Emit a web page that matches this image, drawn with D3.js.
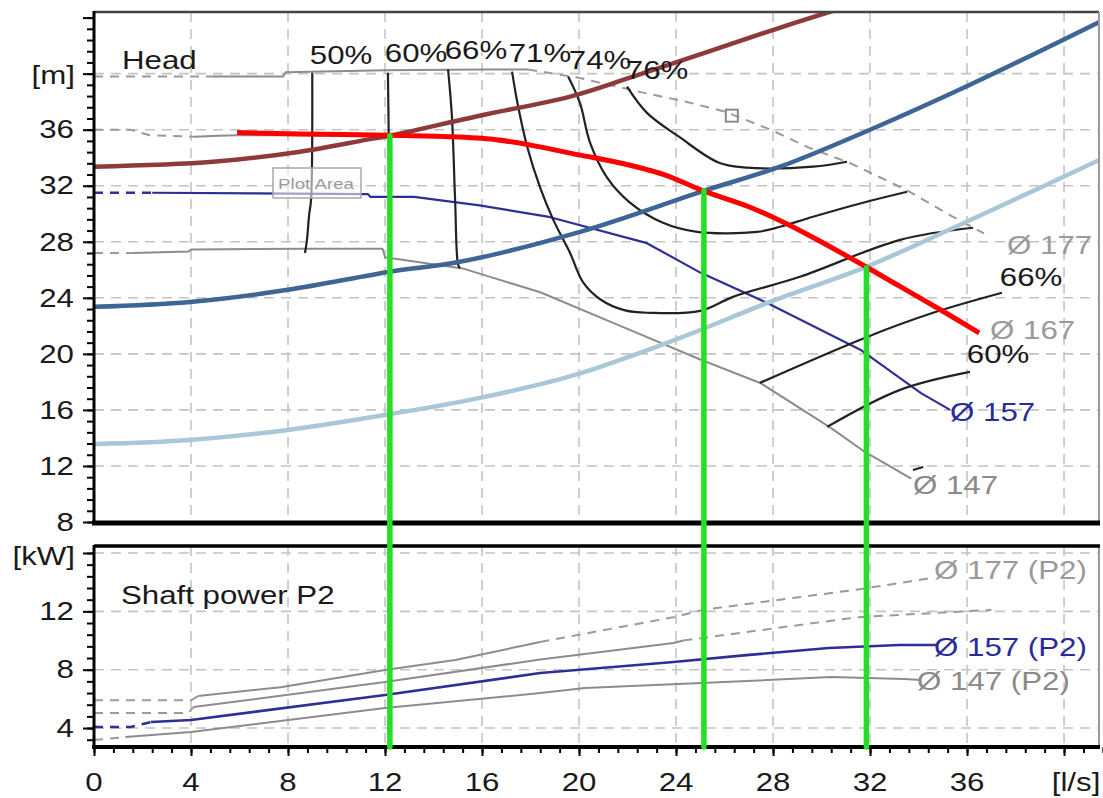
<!DOCTYPE html>
<html>
<head>
<meta charset="utf-8">
<script src="https://cdn.jsdelivr.net/npm/d3@7"></script>
<style>
  body { margin: 0; background: #fff; }
  svg { display: block; }
  text { font-family: "Liberation Sans", Arial, sans-serif; }
</style>
</head>
<body>
<div id="chart"></div>
<script>
// ---- tick labels ----
const flowTicks = [0, 4, 8, 12, 16, 20, 24, 28, 32, 36];
const headTicks = [8, 12, 16, 20, 24, 28, 32, 36];
const powerTicks = [4, 8, 12];
const flowUnit = "[l/s]", headUnit = "[m]", powerUnit = "[kW]";

// ---- QH curves per impeller [Q l/s, H m] ----
const qh177Start = [[0, 39.8], [4.9, 39.8]];
const qh177 = [[4.9, 39.8], [7.8, 39.8], [7.9, 40.1], [12, 40.25], [16, 40.3], [17.9, 40.3]];
const qh177End = [[17.9, 40.3], [20.0, 39.7], [22.5, 38.7], [24.4, 38.0], [26.0, 37.3], [27.9, 36.0],
  [29.5, 34.7], [31.2, 33.6], [33.5, 31.7], [35.4, 29.8], [36.7, 28.6]];
const qh167Start = [[0, 36.0], [1.5, 36.0], [2.3, 35.6], [4.1, 35.5]];
const qh167 = [[4.1, 35.5], [5.9, 35.6], [8.5, 35.6], [12.2, 35.55], [14.6, 35.45], [16.5, 35.25],
  [18.0, 34.85], [20.0, 34.15], [21.5, 33.65], [23.5, 32.75], [25.1, 31.6], [27.0, 30.45], [28.3, 29.45],
  [29.5, 28.4], [31.9, 26.1], [33.2, 24.8], [34.9, 23.1], [36.5, 21.5]];
const qh157Start = [[0, 31.5], [2.4, 31.5]];
const qh157 = [[2.4, 31.5], [11.3, 31.4], [11.4, 31.2], [13.2, 31.2], [15.9, 30.6], [18.7, 29.8],
  [22.8, 27.9], [25.0, 25.8], [27.8, 23.6], [31.6, 20.3], [34.1, 17.2], [35.3, 16.0]];
const qh147Start = [[0, 27.2], [1.6, 27.2]];
const qh147 = [[1.6, 27.2], [3.9, 27.3], [4.0, 27.45], [8.5, 27.5], [11.9, 27.5], [12.0, 26.9],
  [15.2, 26.1], [18.4, 24.4], [21.7, 22.0], [25.0, 19.6], [27.5, 17.9], [30.4, 14.7], [31.7, 13.1], [33.7, 11.1]];
const qhMarker = [26.3, 37.0];

// ---- efficiency contours ----
const eff50 = [[9.0, 40.07], [8.95, 31.0], [8.87, 29.9], [8.78, 28.1], [8.7, 27.2]];
const eff60 = [[12.12, 40.07], [12.16, 34.6], [12.21, 26.9]];
const eff66 = [[14.6, 40.3], [14.76, 36.9], [14.89, 31.0], [15.01, 26.4], [15.09, 26.1]];
const eff71 = [[17.24, 40.14], [17.44, 38.1], [17.86, 34.8], [18.39, 31.9], [18.93, 29.6], [19.63, 27.2],
  [20.17, 25.1], [20.87, 23.9], [21.9, 23.1], [22.93, 22.93], [25.0, 23.07], [26.35, 24.07],
  [29.11, 25.5], [33.24, 28.14], [36.25, 29.0]];
const eff74 = [[19.55, 39.8], [20.04, 37.9], [20.45, 35.1], [21.15, 32.6], [22.1, 30.8], [23.46, 29.36],
  [24.87, 28.71], [27.34, 28.71], [28.29, 29.07], [29.65, 29.79], [31.71, 30.79], [33.53, 31.57]];
const eff76 = [[21.98, 39.07], [22.8, 37.2], [24.12, 35.5], [25.77, 33.64], [26.93, 33.29], [29.65, 33.36], [31.05, 33.71]];
const eff66b = [[27.46, 17.93], [31.88, 21.21], [34.6, 22.93], [37.44, 24.36]];
const eff60b = [[30.23, 14.79], [33.24, 17.43], [36.12, 18.71]];
const eff50b = [[33.77, 11.71], [34.19, 11.93]];

// ---- system curves and the traced pump curve ----
const sysBrown = [[0, 33.36], [4.9, 33.71], [8.5, 34.43], [11.26, 35.29], [12.2, 35.57], [15.9, 37.0],
  [19.63, 38.36], [22.1, 39.71], [28.3, 43.29], [30.64, 44.57]];
const sysBlue = [[0, 23.36], [3.96, 23.71], [8.0, 24.57], [12.2, 25.86], [15.09, 26.57], [20.04, 28.71],
  [25.15, 31.64], [28.29, 33.36], [32.0, 36.0], [36.12, 39.21], [41.48, 43.71]];
const sysLight = [[0, 13.57], [3.96, 13.86], [8.0, 14.57], [12.0, 15.64], [15.92, 16.86], [19.84, 18.5],
  [23.96, 21.0], [27.88, 23.71], [31.84, 26.21], [35.71, 29.21], [39.01, 31.86], [41.48, 33.86]];
const redCurve = [[5.9, 35.8], [8.5, 35.7], [12.2, 35.6], [14.6, 35.5], [16.5, 35.3], [18.0, 34.9],
  [20.0, 34.2], [21.5, 33.7], [23.5, 32.8], [25.1, 31.65], [27.0, 30.5], [28.3, 29.5], [29.5, 28.45],
  [31.9, 26.15], [33.2, 24.85], [34.9, 23.15], [36.5, 21.5]];
const greenQ = [12.2, 25.15, 31.85];
const greenTop = [35.57, 31.64, 26.14];

// ---- shaft power P2 [Q l/s, P kW] ----
const p177Start = [[0, 5.9], [4.0, 5.9], [4.3, 6.2]];
const p177 = [[4.3, 6.2], [7.7, 6.8], [12.0, 7.98], [14.9, 8.66], [18.4, 9.9]];
const p177End = [[18.4, 9.9], [23.9, 11.6], [25.1, 12.1], [31.5, 13.5], [34.6, 14.3]];
const p167Start = [[0, 5.03], [3.9, 5.03], [4.1, 5.44]];
const p167 = [[4.1, 5.44], [12.0, 7.15], [18.4, 8.7], [23.9, 9.83], [24.3, 10.0]];
const p167End = [[24.3, 10.0], [31.5, 11.6], [37.0, 12.1]];
const p157Start = [[0, 4.07], [1.5, 4.07], [2.35, 4.41]];
const p157 = [[2.35, 4.41], [4.0, 4.55], [12.0, 6.26], [18.4, 7.77], [23.9, 8.53], [26.9, 9.0],
  [30.3, 9.49], [33.2, 9.69], [34.8, 9.69]];
const p147Start = [[0, 3.18], [1.3, 3.38]];
const p147 = [[1.3, 3.38], [4.0, 3.73], [12.0, 5.37], [18.4, 6.4], [20.25, 6.74], [26.0, 7.15],
  [30.4, 7.5], [33.4, 7.36], [34.1, 7.29]];

// ---- labels [text, Q, value] ----
const effLabels = [["50%", 10.19, 41.33], ["60%", 13.28, 41.48], ["66%", 15.75, 41.69], ["71%", 18.39, 41.48],
  ["74%", 20.87, 40.98], ["76%", 23.22, 40.26], ["66%", 38.64, 25.45], ["60%", 37.28, 20.0]];
const headLabels = [["Ø 177", 37.65, 27.75, "#9a9a9a"], ["Ø 167", 36.95, 21.7, "#9a9a9a"],
  ["Ø 157", 35.3, 15.85, "#2a2a9a"], ["Ø 147", 33.77, 10.64, "#8a8a8a"]];
const powerLabels = [["Ø 177 (P2)", 34.64, 14.83, "#9a9a9a"], ["Ø 157 (P2)", 34.64, 9.55, "#2a2a9a"],
  ["Ø 147 (P2)", 33.94, 7.22, "#8a8a8a"]];

const width = 1103, height = 798;
const left = 94, right = 1099;
const x = d3.scaleLinear().domain([0, 41.4]).range([94, 1098]);
const yH = d3.scaleLinear().domain([8, 44.4]).range([522, 12]);
const yP = d3.scaleLinear().domain([2.7, 16.48]).range([747, 546]);

const svg = d3.select("#chart").append("svg")
  .attr("width", width)
  .attr("height", height)
  .attr("viewBox", [0, 0, width, height]);

svg.append("rect").attr("width", width).attr("height", height).attr("fill", "#fff");

const defs = svg.append("defs");
defs.append("clipPath").attr("id", "clipH")
  .append("rect").attr("x", left).attr("y", yH.range()[1]).attr("width", right - left).attr("height", 510);
defs.append("clipPath").attr("id", "clipP")
  .append("rect").attr("x", left).attr("y", yP.range()[1]).attr("width", right - left).attr("height", 201);

function txt(g, px, py, str, o = {}) {
  return g.append("text")
    .attr("transform", `translate(${px},${py}) scale(${o.sx ?? 1.25},1)`)
    .attr("text-anchor", o.anchor || "start")
    .attr("dy", o.dy ?? "0.35em")
    .attr("font-size", o.size || 25)
    .attr("fill", o.fill || "#1a1a1a")
    .text(str);
}

// ---- grid ----
const grid = svg.append("g")
  .attr("stroke", "#c4c4c4")
  .attr("stroke-width", 1.6)
  .attr("stroke-dasharray", "10,7");
const gridQ = d3.range(4, 41, 4);
grid.selectAll(".vh").data(gridQ).join("line")
  .attr("x1", d => x(d)).attr("x2", d => x(d))
  .attr("y1", yH.range()[1]).attr("y2", yH.range()[0]);
grid.selectAll(".vp").data(gridQ).join("line")
  .attr("x1", d => x(d)).attr("x2", d => x(d))
  .attr("y1", yP.range()[1]).attr("y2", yP.range()[0]);
grid.selectAll(".hh").data(d3.range(12, 41, 4)).join("line")
  .attr("x1", left).attr("x2", right)
  .attr("y1", d => yH(d)).attr("y2", d => yH(d));
grid.selectAll(".hp").data([4, 8, 12, 16]).join("line")
  .attr("x1", left).attr("x2", right)
  .attr("y1", d => yP(d)).attr("y2", d => yP(d));

const lineH = d3.line().x(d => x(d[0])).y(d => yH(d[1]));
const smoothH = d3.line().x(d => x(d[0])).y(d => yH(d[1])).curve(d3.curveCatmullRom);
const lineP = d3.line().x(d => x(d[0])).y(d => yP(d[1]));

// ---- head panel ----
const gH = svg.append("g").attr("clip-path", "url(#clipH)").attr("fill", "none");

function path(g, gen, data, color, w, dash) {
  g.append("path")
    .attr("d", gen(data))
    .attr("stroke", color)
    .attr("stroke-width", w)
    .attr("stroke-dasharray", dash || null)
    .attr("stroke-linejoin", "round");
}

const gray = "#8c8c8c", navy = "#2e2e96";
path(gH, lineH, qh177Start, "#9a9a9a", 2, "9,7");
path(gH, lineH, qh177, gray, 2);
path(gH, lineH, qh177End, "#9a9a9a", 2, "9,7");
path(gH, lineH, qh167Start, "#9a9a9a", 2, "9,7");
path(gH, smoothH, qh167, gray, 2);
path(gH, lineH, qh157Start, navy, 2.5, "9,7");
path(gH, lineH, qh157, navy, 2.2);
path(gH, lineH, qh147Start, "#9a9a9a", 2, "9,7");
path(gH, lineH, qh147, gray, 2);

gH.append("rect")
  .attr("x", x(qhMarker[0]) - 6).attr("y", yH(qhMarker[1]) - 6)
  .attr("width", 12).attr("height", 12)
  .attr("stroke", "#8a8a8a").attr("stroke-width", 2);

[eff50, eff60, eff66, eff71, eff74, eff76, eff66b, eff60b, eff50b].forEach(c => path(gH, smoothH, c, "#222", 2.2));

const gLab = svg.append("g");
effLabels.forEach(([t, q, v]) => txt(gLab, x(q), yH(v), t, {anchor: "middle"}));
headLabels.forEach(([t, q, v, c]) => txt(gLab, x(q), yH(v), t, {fill: c}));
powerLabels.forEach(([t, q, v, c]) => txt(gLab, x(q), yP(v), t, {fill: c}));

path(gH, smoothH, sysLight, "#a9c7d6", 4.5);
path(gH, smoothH, sysBlue, "#3d6595", 4.5);
path(gH, smoothH, sysBrown, "#8e3a3a", 4.5);
path(gH, smoothH, redCurve, "#ff0000", 5);

// ---- power panel ----
const gP = svg.append("g").attr("clip-path", "url(#clipP)").attr("fill", "none");
path(gP, lineP, p177Start, "#9a9a9a", 2, "9,7");
path(gP, lineP, p177, gray, 2);
path(gP, lineP, p177End, "#9a9a9a", 2, "9,7");
path(gP, lineP, p167Start, "#9a9a9a", 2, "9,7");
path(gP, lineP, p167, gray, 2);
path(gP, lineP, p167End, "#9a9a9a", 2, "9,7");
path(gP, lineP, p157Start, navy, 2.5, "9,7");
path(gP, lineP, p157, navy, 2.6);
path(gP, lineP, p147Start, "#9a9a9a", 2, "9,7");
path(gP, lineP, p147, gray, 2);

// ---- Plot Area hint box ----
const hint = svg.append("g");
hint.append("rect").attr("x", 273).attr("y", 168).attr("width", 88).attr("height", 30)
  .attr("fill", "#ffffff").attr("fill-opacity", 0.55)
  .attr("stroke", "#a8a8a8").attr("stroke-width", 1.5);
txt(hint, 278, 184, "Plot Area", {size: 15, fill: "#9a9a9a"});

// ---- frames ----
const frame = svg.append("g").attr("fill", "none");
frame.append("line").attr("x1", left).attr("x2", right).attr("y1", 12).attr("y2", 12).attr("stroke", "#444").attr("stroke-width", 2.5);
frame.append("line").attr("x1", right).attr("x2", right).attr("y1", 12).attr("y2", 522).attr("stroke", "#9a9a9a").attr("stroke-width", 2);
frame.append("line").attr("x1", right).attr("x2", right).attr("y1", 546).attr("y2", 747).attr("stroke", "#9a9a9a").attr("stroke-width", 2);
frame.append("line").attr("x1", left).attr("x2", left).attr("y1", 11).attr("y2", 525).attr("stroke", "#000").attr("stroke-width", 3);
frame.append("line").attr("x1", left - 2).attr("x2", right + 1).attr("y1", 523).attr("y2", 523).attr("stroke", "#000").attr("stroke-width", 5);
frame.append("line").attr("x1", left).attr("x2", right + 1).attr("y1", 546).attr("y2", 546).attr("stroke", "#000").attr("stroke-width", 3.5);
frame.append("line").attr("x1", left).attr("x2", left).attr("y1", 545).attr("y2", 748).attr("stroke", "#000").attr("stroke-width", 3);
frame.append("line").attr("x1", left - 2).attr("x2", right + 1).attr("y1", 747).attr("y2", 747).attr("stroke", "#000").attr("stroke-width", 4);

// ---- axes (ticks via d3 axes, labels as stretched text) ----
const minor = (a, b) => d3.range(0, Math.round((b - a) / 0.8) + 1).map(i => +(a + i * 0.8).toFixed(2));
function ticks(axis, values, size, transform) {
  svg.append("g").attr("transform", transform)
    .call(axis.tickValues(values).tickSize(size).tickFormat(""))
    .call(g => g.select(".domain").remove())
    .call(g => g.selectAll(".tick line").attr("stroke", "#000").attr("stroke-width", 2));
}
ticks(d3.axisLeft(yH), minor(8, 44.0), 7, `translate(${left},0)`);
ticks(d3.axisLeft(yH), d3.range(8, 45, 4), 11, `translate(${left},0)`);
ticks(d3.axisLeft(yP), minor(3.2, 16.4), 7, `translate(${left},0)`);
ticks(d3.axisLeft(yP), [4, 8, 12, 16], 11, `translate(${left},0)`);
ticks(d3.axisBottom(x), minor(0, 41.2), 6, `translate(0,747)`);
ticks(d3.axisBottom(x), d3.range(0, 41, 4), 9, `translate(0,747)`);

const gAx = svg.append("g");
headTicks.forEach(v => txt(gAx, 74, yH(v), v, {anchor: "end"}));
txt(gAx, 75, yH(40) + 2, headUnit, {anchor: "end"});
powerTicks.forEach(v => txt(gAx, 74, yP(v), v, {anchor: "end"}));
txt(gAx, 75, yP(16) + 3, powerUnit, {anchor: "end"});
flowTicks.forEach(v => txt(gAx, x(v), 782, v, {anchor: "middle"}));
txt(gAx, x(40) + 12, 782, flowUnit, {anchor: "middle"});

txt(svg, 122, 60, "Head", {});
txt(svg, 121, 595, "Shaft power P2", {});

// ---- green duty lines ----
svg.append("g").selectAll("line").data(greenQ).join("line")
  .attr("x1", d => x(d)).attr("x2", d => x(d))
  .attr("y1", (d, i) => yH(greenTop[i]))
  .attr("y2", yP.range()[0])
  .attr("stroke", "#22e022")
  .attr("stroke-width", 5.5)
  .attr("stroke-linecap", "round");
</script>
</body>
</html>
